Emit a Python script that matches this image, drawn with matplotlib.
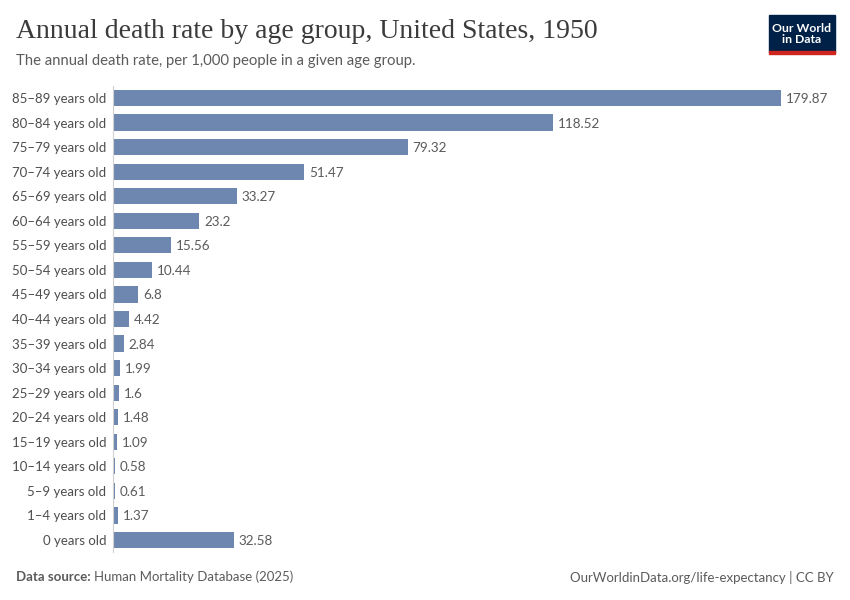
import matplotlib.pyplot as plt
from matplotlib.patches import Rectangle

# data, top to bottom as in the chart
ages = ['85–89 years old', '80–84 years old', '75–79 years old', '70–74 years old',
        '65–69 years old', '60–64 years old', '55–59 years old', '50–54 years old',
        '45–49 years old', '40–44 years old', '35–39 years old', '30–34 years old',
        '25–29 years old', '20–24 years old', '15–19 years old', '10–14 years old',
        '5–9 years old', '1–4 years old', '0 years old']
rates = [179.87, 118.52, 79.32, 51.47, 33.27, 23.2, 15.56, 10.44, 6.8, 4.42,
         2.84, 1.99, 1.6, 1.48, 1.09, 0.58, 0.61, 1.37, 32.58]
rate_labels = ['179.87', '118.52', '79.32', '51.47', '33.27', '23.2', '15.56', '10.44',
               '6.8', '4.42', '2.84', '1.99', '1.6', '1.48', '1.09', '0.58', '0.61',
               '1.37', '32.58']

plt.rcParams['font.family'] = ['Lato', 'DejaVu Sans']

fig = plt.figure(figsize=(8.5, 6), dpi=100)
ax = fig.add_axes([0.1329, 0.0795, 0.7859, 0.7777])

ypos = list(range(len(ages)))[::-1]
ax.barh(ypos, rates, height=0.66, color='#6d87b0', edgecolor='none')
for y, v, lab in zip(ypos, rates, rate_labels):
    ax.text(v + 1.3, y - 0.04, lab, va='center', ha='left', fontsize=9.7, color='#5b5b5b')

ax.set_yticks(ypos)
ax.set_yticklabels(ages, fontsize=9.5, color='#4e4e4e')
ax.tick_params(axis='y', length=0, pad=5)
ax.set_xticks([])
ax.set_xlim(0, 179.87)
ax.set_ylim(-0.5, len(ages) - 0.5)
for s in ['top', 'right', 'bottom']:
    ax.spines[s].set_visible(False)
ax.spines['left'].set_color('#d0d0d0')
ax.spines['left'].set_linewidth(0.8)

# title and subtitle
fig.text(16/850, 1 - 32/600, 'Annual death rate by age group, United States, 1950',
         family='Liberation Serif', fontsize=20, color='#3b3b3b', va='center', ha='left')
fig.text(16/850, 1 - 61/600, 'The annual death rate, per 1,000 people in a given age group.',
         fontsize=10.7, color='#5b5b5b', va='center', ha='left')

# logo
fig.patches.append(Rectangle((769/850, 1 - 52/600), 66/850, 37/600,
                             transform=fig.transFigure, color='#002147'))
fig.patches.append(Rectangle((769/850, 1 - 54/600), 66/850, 3/600,
                             transform=fig.transFigure, color='#ce261e'))
fig.text(802/850, 1 - 34/600, 'Our World\nin Data', color='white', fontsize=8.8,
         ha='center', va='center', linespacing=1.0, fontweight='bold')

# footer
fig.text(16/850, 1 - 577/600, 'Data source:', fontsize=9.5, color='#5b5b5b',
         fontweight='bold', va='center', ha='left')
fig.text(94/850, 1 - 577/600, 'Human Mortality Database (2025)', fontsize=9.5,
         color='#5b5b5b', va='center', ha='left')
fig.text(834/850, 1 - 577/600, 'OurWorldinData.org/life-expectancy | CC BY', fontsize=9.5,
         color='#5b5b5b', va='center', ha='right')

fig.savefig('out.png', dpi=100)
